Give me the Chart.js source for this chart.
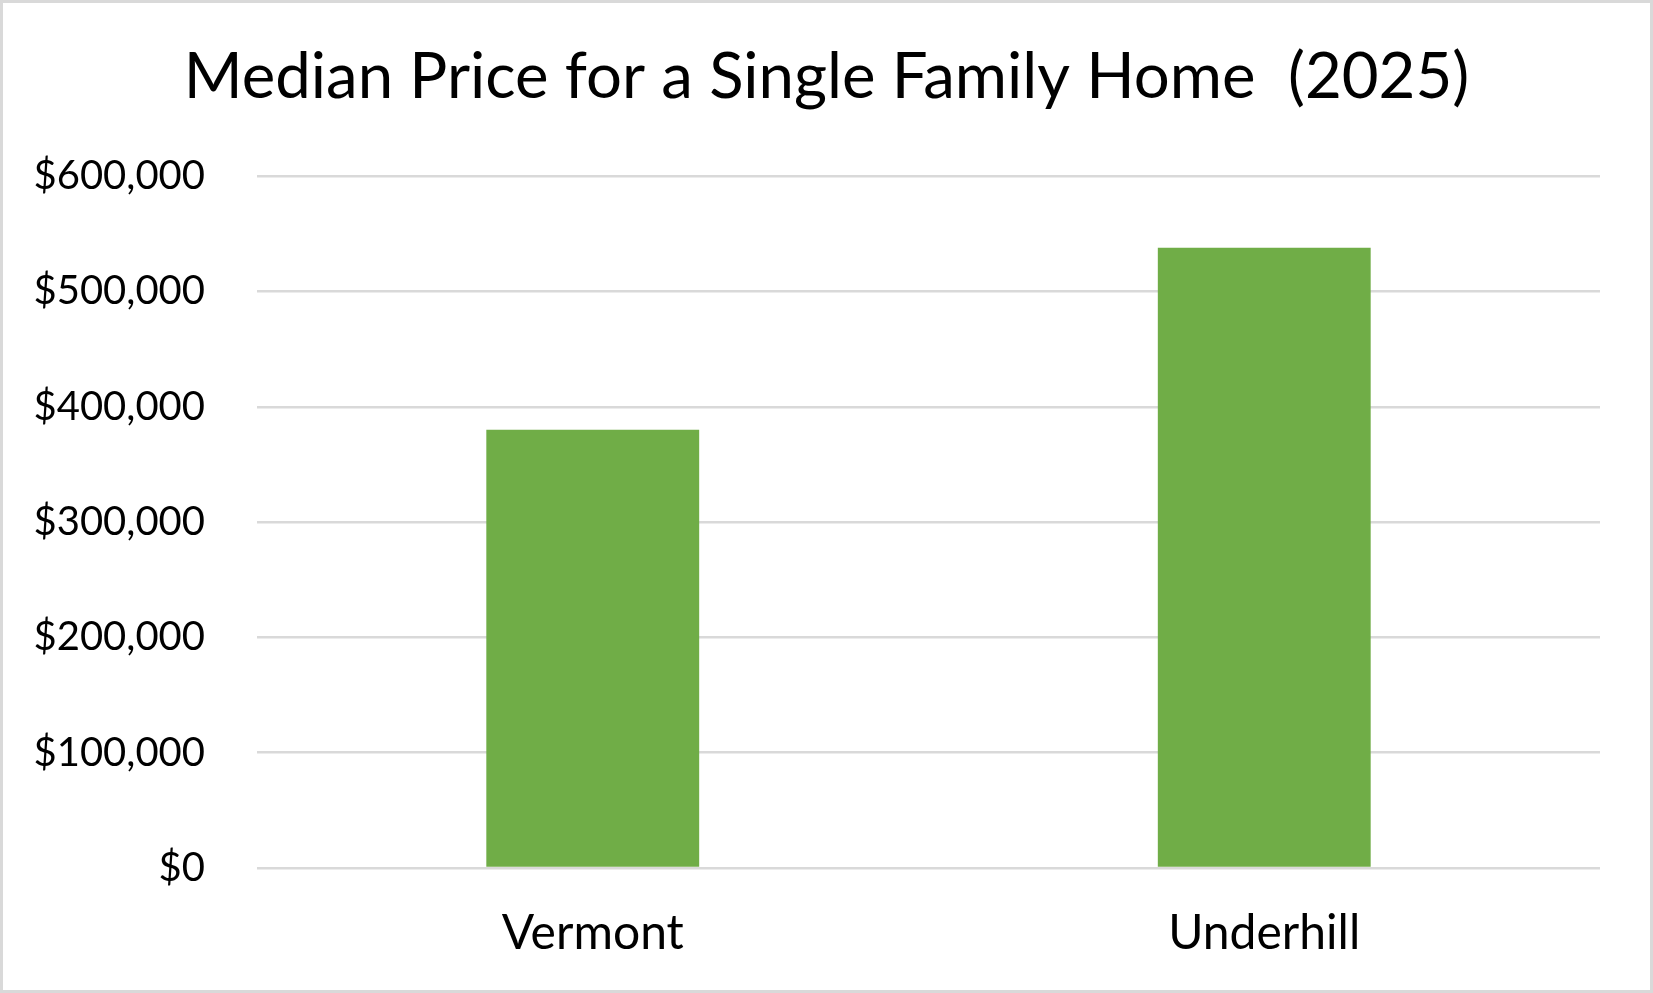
<!DOCTYPE html>
<html>
<head>
<meta charset="utf-8">
<script src="https://cdn.jsdelivr.net/npm/chart.js@4"></script>
<style>
  html, body { margin: 0; padding: 0; background: #fff; }
  #wrap {
    position: relative;
    width: 1653px;
    height: 993px;
    box-sizing: border-box;
    border: 3px solid #d9d9d9;
  }
</style>
</head>
<body>
<div id="wrap"><canvas id="priceChart"></canvas></div>
<script>
// data
const places = ["Vermont", "Underhill"];
const medianPrices = [380000, 538000];
const barColor = "#70AD47";

const fontFamily = "Lato, 'Noto Sans', sans-serif";

function money(value) {
  return "$" + value.toLocaleString("en-US");
}

new Chart(document.getElementById("priceChart"), {
  type: "bar",
  data: {
    labels: places,
    datasets: [
      {
        data: medianPrices,
        backgroundColor: barColor,
        categoryPercentage: 1,
        barPercentage: 0.317,
      },
    ],
  },
  options: {
    responsive: true,
    maintainAspectRatio: false,
    animation: false,
    layout: { padding: { left: 0, right: 0, top: 36, bottom: 0 } },
    plugins: {
      legend: { display: false },
      tooltip: { enabled: false },
      title: {
        display: true,
        text: "Median Price for a Single Family Home  (2025)",
        color: "#000",
        font: { family: fontFamily, size: 63.5, weight: "normal" },
        padding: { top: 0, bottom: 61 },
      },
    },
    scales: {
      x: {
        grid: { display: false, drawTicks: false },
        border: { display: false },
        ticks: {
          color: "#000",
          padding: 37,
          font: { family: fontFamily, size: 48 },
        },
        afterFit: (scale) => {
          scale.height = 122;
        },
      },
      y: {
        min: 0,
        max: 600000,
        grid: { color: "#d9d9d9", lineWidth: 2.5, drawTicks: false },
        border: { display: false },
        ticks: {
          stepSize: 100000,
          color: "#000",
          padding: 52,
          font: { family: fontFamily, size: 40 },
          callback: (v) => money(v),
        },
        afterFit: (scale) => {
          scale.width = 254;
        },
      },
      // empty right axis, only keeps white space on the right side
      spacer: {
        position: "right",
        grid: { display: false, drawTicks: false },
        border: { display: false },
        ticks: { display: false },
        afterFit: (scale) => {
          scale.width = 50;
        },
      },
    },
  },
});
</script>
</body>
</html>
